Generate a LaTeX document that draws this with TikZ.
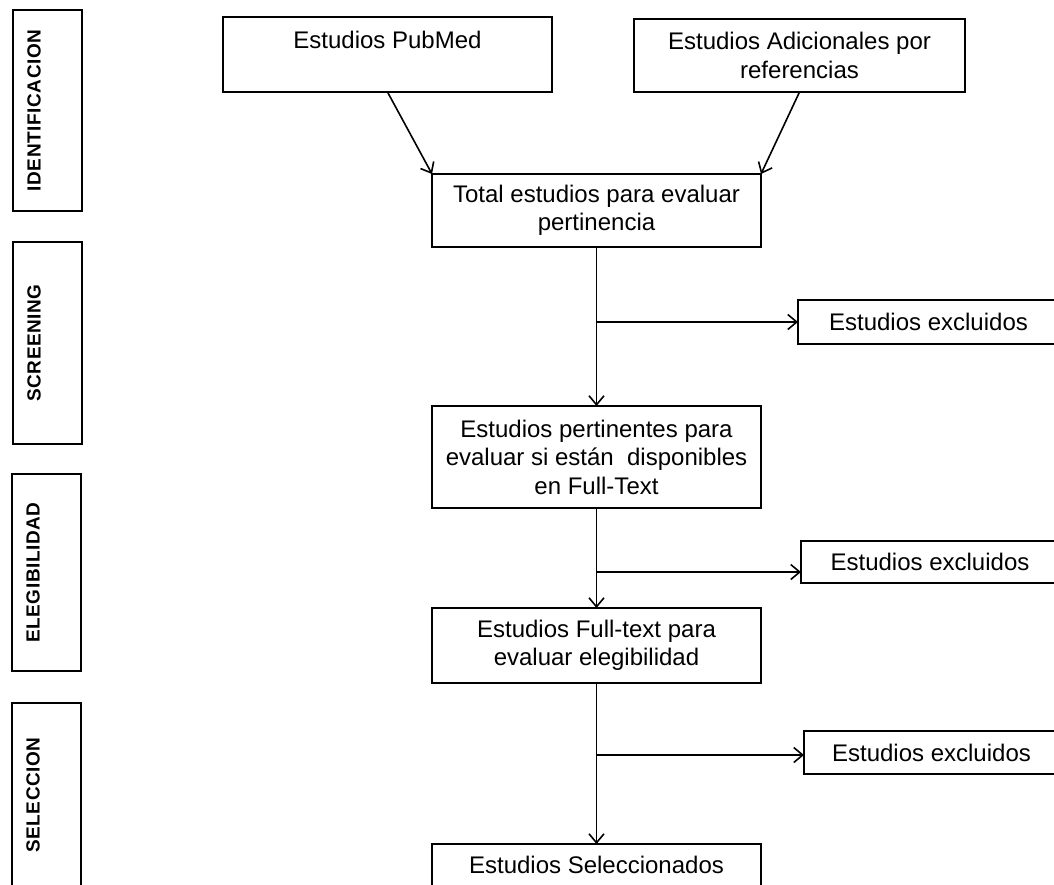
\documentclass[tikz,border=0pt]{standalone}
\usepackage{fontspec}
\setmainfont{Liberation Sans}
\usetikzlibrary{arrows.meta}
\begin{document}
\begin{tikzpicture}[x=1pt,y=-1pt,
  every node/.style={inner sep=0pt, outer sep=0pt},
  mainbox/.style={draw, line width=1.6pt, align=center, minimum width=329pt,
     font=\fontsize{24}{28.5}\selectfont},
  exbox/.style={draw, line width=1.6pt, font=\fontsize{24}{28.5}\selectfont},
  sidebox/.style={draw, line width=1.6pt, rotate=90, minimum height=69pt,
     font=\fontsize{19}{22}\selectfont\bfseries\addfontfeature{LetterSpace=3},
     text height=14pt, text depth=28pt},
  arr/.style={line width=1.6pt, -{Straight Barb[length=9pt,width=15pt]}},
]
\useasboundingbox (0,0) rectangle (1054,884);
\clip (0,0) rectangle (1054,884);
\fill[white] (0,0) rectangle (1054,884);

% phase boxes
\node[sidebox, minimum width=201pt] (s1) at (47.5,110.5) {IDENTIFICACION};
\node[sidebox, minimum width=202pt] (s2) at (47.5,343) {SCREENING};
\node[sidebox, minimum width=197pt] (s3) at (46.5,572.5) {ELEGIBILIDAD};
\node[sidebox, minimum width=184pt] (s4) at (46.5,795) {SELECCION};

% main boxes
\node[mainbox, minimum height=75pt, text depth=28.4pt] (pub) at (387.5,54.5) {Estudios PubMed};
\node[mainbox, minimum width=331pt, minimum height=73pt] (adi) at (799.5,55.5) {Estudios Adicionales por\\referencias};
\node[mainbox, minimum height=73pt] (tot) at (596.5,210.5) {Total estudios para evaluar\\pertinencia};
\node[mainbox, minimum height=102pt] (per) at (596.5,457) {Estudios pertinentes para\\evaluar si están~ disponibles\\en Full-Text};
\node[mainbox, minimum height=75pt] (ful) at (596.5,645.5) {Estudios Full-text para\\evaluar elegibilidad};
\node[mainbox, minimum height=75pt, text depth=34pt] (sel) at (596.5,881.5) {Estudios Seleccionados};

% excluded boxes
\node[exbox, minimum width=261pt, minimum height=44pt] (ex1) at (928.5,322) {Estudios excluidos};
\node[exbox, minimum width=258pt, minimum height=42pt] (ex2) at (930,562) {Estudios excluidos};
\node[exbox, minimum width=255pt, minimum height=43pt] (ex3) at (931.5,752.5) {Estudios excluidos};

% junctions
\coordinate (j1) at (596.5,322);
\coordinate (j2) at (596.5,572);
\coordinate (j3) at (596.5,755);

% connectors
\draw[arr] (pub.south) -- (tot.north west);
\draw[arr] (adi.south) -- (tot.north east);
\draw[arr] (tot.south) -- (per.north);
\draw[arr] (j1) -- (ex1.west);
\draw[arr] (per.south) -- (ful.north);
\draw[arr] (j2) -- (j2 -| ex2.west);
\draw[arr] (ful.south) -- (sel.north);
\draw[arr] (j3) -- (j3 -| ex3.west);
\end{tikzpicture}
\end{document}
